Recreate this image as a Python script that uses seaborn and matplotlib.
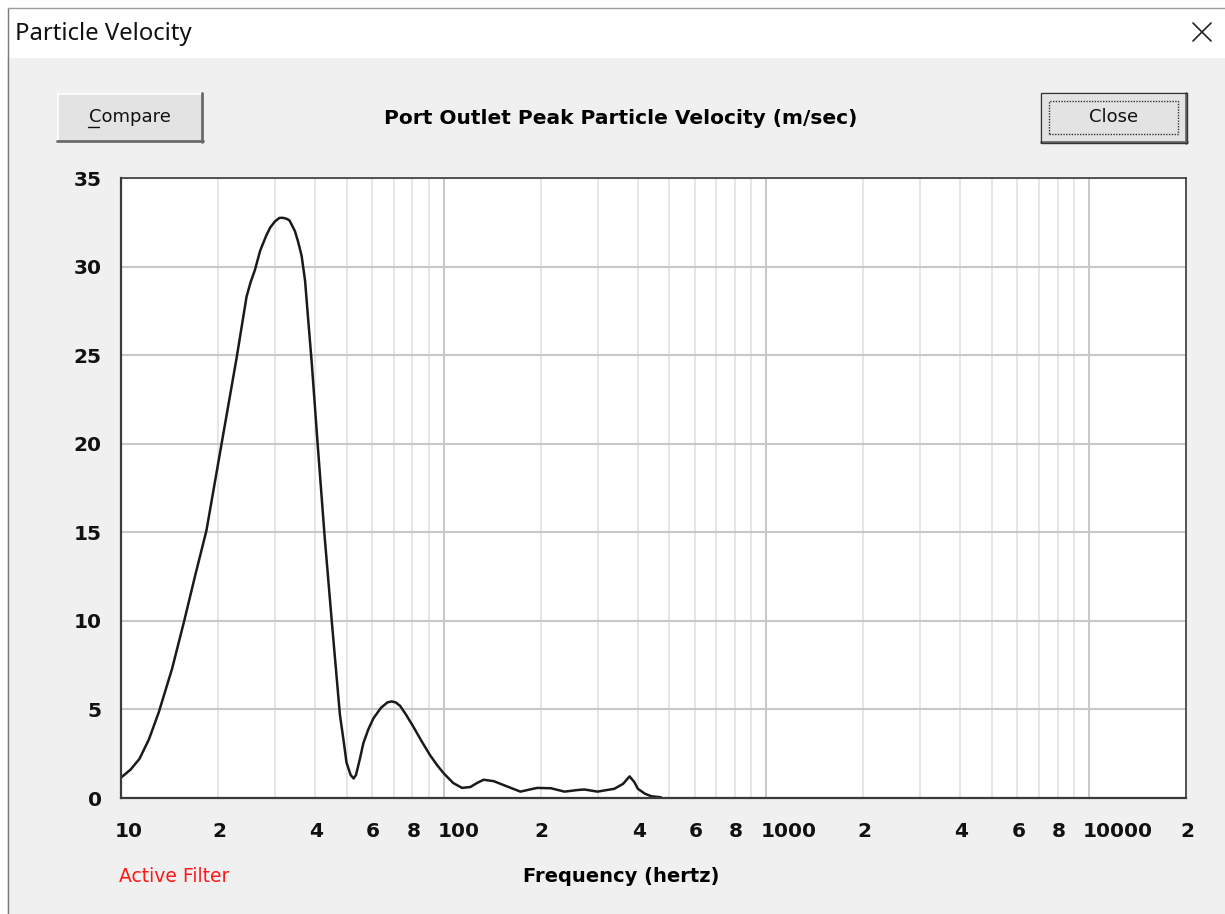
import matplotlib
matplotlib.use("Agg")
import matplotlib.pyplot as plt
import matplotlib.ticker as mticker
import matplotlib.transforms as mtrans
from matplotlib.patches import Rectangle
from matplotlib.lines import Line2D
import numpy as np
import pandas as pd
import seaborn as sns

# ---- data ----
freq_hz = [10, 10.7, 11.4, 12.2, 13.1, 14.4, 15.7, 17.0, 18.4, 20.5, 22.8, 24.5,
           25.2, 26.0, 27.0, 28.2, 29.0, 30.0, 31.0, 31.8, 32.6, 33.3, 34.6, 35.4,
           36.3, 37.2, 38.0, 39.0, 40.8, 42.8, 45.0, 47.7, 49.0, 50.0, 51.5, 52.6, 53.5,
           55.0, 56.4, 58.5, 60.6, 64.0, 67.0, 69.0, 71.0, 73.3, 76.5, 80.7, 85.5,
           90.9, 95.5, 100, 107, 114, 121, 127, 133, 143, 160, 173, 185, 195, 215,
           237, 260, 273, 300, 338, 360, 377, 390, 400, 420, 440, 472]
velocity = [1.15, 1.6, 2.2, 3.3, 4.85, 7.3, 10.0, 12.6, 15.1, 20.0, 24.8, 28.3,
            29.1, 29.8, 30.9, 31.75, 32.2, 32.55, 32.75, 32.75, 32.7, 32.6, 32.0, 31.4,
            30.6, 29.2, 27.1, 24.6, 19.7, 14.7, 10.0, 4.7, 3.2, 2.0, 1.3, 1.1, 1.3,
            2.2, 3.1, 3.9, 4.5, 5.1, 5.4, 5.45, 5.4, 5.2, 4.7, 4.0, 3.2,
            2.4, 1.85, 1.4, 0.85, 0.57, 0.62, 0.85, 1.03, 0.95, 0.6, 0.36, 0.48, 0.57, 0.55,
            0.36, 0.45, 0.48, 0.36, 0.52, 0.8, 1.22, 0.9, 0.52, 0.25, 0.1, 0.04]

y_ticks = [0, 5, 10, 15, 20, 25, 30, 35]
x_decades = [10, 100, 1000, 10000]
x_decade_labels = ["10", "100", "1000", "10000"]
x_minor_labelled = [2, 4, 6, 8]

title = "Port Outlet Peak Particle Velocity (m/sec)"
xlabel = "Frequency (hertz)"
window_title = "Particle Velocity"
filter_text = "Active Filter"

df = pd.DataFrame({"freq": freq_hz, "vel": velocity})

sns.set_theme(style="white")
plt.rcParams["font.family"] = ["DejaVu Sans"]

W, H = 1225, 914
fig = plt.figure(figsize=(W / 100, H / 100), dpi=100, facecolor="#f0f0f0")

def fx(x):
    return x / W

def fy(y):
    return 1 - y / H

# window chrome
fig.patches.append(Rectangle((0, fy(58)), 1, fy(0) - fy(58), transform=fig.transFigure,
                             facecolor="white", edgecolor="none", zorder=0))
fig.patches.append(Rectangle((0, 0), fx(7), 1, transform=fig.transFigure,
                             facecolor="white", edgecolor="none", zorder=0))
fig.lines.append(Line2D([fx(7.5), fx(7.5)], [0, fy(7.5)], transform=fig.transFigure,
                        color="#7a7a7a", lw=1.0))
fig.lines.append(Line2D([fx(7.5), 1], [fy(7.5), fy(7.5)], transform=fig.transFigure,
                        color="#9a9a9a", lw=1.0))
fig.text(fx(15), fy(34), window_title, fontsize=17.2, family="Noto Sans",
         ha="left", va="center", color="#111111")
fig.lines.append(Line2D([fx(1193), fx(1211)], [fy(23), fy(41)], transform=fig.transFigure,
                        color="#222222", lw=1.2))
fig.lines.append(Line2D([fx(1193), fx(1211)], [fy(41), fy(23)], transform=fig.transFigure,
                        color="#222222", lw=1.2))

# buttons
def button(x0, y0, x1, y1, label, focus=False):
    fig.patches.append(Rectangle((fx(x0), fy(y1)), fx(x1) - fx(x0), fy(y0) - fy(y1),
                                 transform=fig.transFigure, facecolor="#e3e3e3",
                                 edgecolor="none", zorder=1))
    fig.lines.append(Line2D([fx(x0 + 1), fx(x1 - 1)], [fy(y0 + 1), fy(y0 + 1)],
                            transform=fig.transFigure, color="white", lw=1.2))
    fig.lines.append(Line2D([fx(x0 + 1), fx(x0 + 1)], [fy(y0 + 1), fy(y1 - 1)],
                            transform=fig.transFigure, color="white", lw=1.2))
    fig.lines.append(Line2D([fx(x0), fx(x1)], [fy(y1 - 1), fy(y1 - 1)],
                            transform=fig.transFigure, color="#6a6a6a", lw=2.0))
    fig.lines.append(Line2D([fx(x1 - 1), fx(x1 - 1)], [fy(y0), fy(y1)],
                            transform=fig.transFigure, color="#6a6a6a", lw=2.0))
    if focus:
        fig.patches.append(Rectangle((fx(x0), fy(y1)), fx(x1) - fx(x0), fy(y0) - fy(y1),
                                     transform=fig.transFigure, facecolor="none",
                                     edgecolor="#333333", lw=1.0, zorder=2))
        fig.patches.append(Rectangle((fx(x0 + 8), fy(y1 - 9)), fx(x1 - 9) - fx(x0 + 8),
                                     fy(y0 + 8) - fy(y1 - 9), transform=fig.transFigure,
                                     facecolor="none", edgecolor="#333333", lw=1.0,
                                     linestyle=(0, (1, 1)), zorder=2))
    return fig.text(fx((x0 + x1) / 2), fy((y0 + y1) / 2 - 1), label, fontsize=13,
                    ha="center", va="center", color="#111111", zorder=3)

button(57, 93, 203, 142, "Compare")
fig.lines.append(Line2D([fx(88), fx(99)], [fy(127), fy(127)], transform=fig.transFigure,
                        color="#111111", lw=1.0, zorder=4))
button(1041, 93, 1187, 143, "Close", focus=True)

# chart title
fig.text(fx(621), fy(118), title, fontsize=14.5, fontweight="bold", ha="center",
         va="center", color="black")

# axes
ax = fig.add_axes([fx(121), fy(798), fx(1186) - fx(121), fy(178) - fy(798)])
ax.set_facecolor("white")
sns.lineplot(data=df, x="freq", y="vel", ax=ax, color="#1a1a1a", lw=1.8, legend=False)

ax.set_xscale("log")
ax.set_xlim(10, 20000)
ax.set_ylim(0, 35)

ax.xaxis.set_major_locator(mticker.FixedLocator(x_decades))
ax.xaxis.set_major_formatter(mticker.FixedFormatter(x_decade_labels))
minor_locs = [m * d for d in x_decades for m in range(2, 10) if m * d <= 20000]
ax.xaxis.set_minor_locator(mticker.FixedLocator(minor_locs))

def minor_fmt(v, pos):
    d = 10 ** np.floor(np.log10(v) + 1e-9)
    m = int(round(v / d))
    return str(m) if m in x_minor_labelled else ""

ax.xaxis.set_minor_formatter(mticker.FuncFormatter(minor_fmt))
ax.set_yticks(y_ticks)
ax.set_yticklabels([str(t) for t in y_ticks])

ax.grid(True, which="major", axis="x", color="#c8c8c8", lw=1.4)
ax.grid(True, which="minor", axis="x", color="#e6e6e6", lw=1.4)
ax.grid(True, which="major", axis="y", color="#c8c8c8", lw=1.5)
ax.set_axisbelow(True)

ax.tick_params(axis="x", which="both", length=0, pad=17, labelsize=14.5, labelcolor="#111111")
ax.tick_params(axis="y", which="both", length=0, pad=14, labelsize=14.5, labelcolor="#111111")
for lab in ax.get_xticklabels(which="both") + ax.get_yticklabels():
    lab.set_fontweight("bold")

off = mtrans.ScaledTranslation(-0.06, 0, fig.dpi_scale_trans)
for lab in ax.get_xticklabels(which="both"):
    lab.set_horizontalalignment("left")
    lab.set_transform(lab.get_transform() + off)

for side, sp in ax.spines.items():
    sp.set_visible(True)
    sp.set_color("#3a3a3a")
    sp.set_linewidth(1.6 if side in ("left", "bottom") else 1.2)

ax.set_xlabel("")
ax.set_ylabel("")

fig.text(fx(621), fy(877), xlabel, fontsize=14, fontweight="bold", ha="center",
         va="center", color="black")
fig.text(fx(119), fy(877), filter_text, fontsize=13.5, ha="left", va="center",
         color="#ff1a1a")

fig.savefig("out.png", dpi=100, facecolor=fig.get_facecolor())
